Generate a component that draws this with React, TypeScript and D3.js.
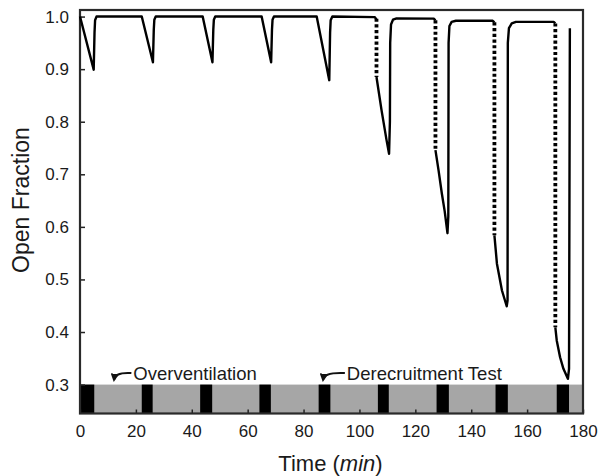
import { useEffect, useRef } from "react";
import * as d3 from "d3";

// open fraction trace, broken where the dotted drops are
const SOLID_SEGMENTS: [number, number][][] = [
  [
    [0, 1.0], [4.9, 0.899], [5.2, 0.97], [5.4, 0.993], [5.9, 1.0],
    [22.1, 1.0], [26.1, 0.913], [26.4, 0.975], [26.6, 0.994], [27.1, 1.0],
    [43.9, 1.0], [47.4, 0.913], [47.7, 0.975], [47.9, 0.994], [48.4, 1.0],
    [65.0, 1.0], [68.4, 0.913], [68.7, 0.975], [68.9, 0.994], [69.4, 1.0],
    [84.7, 1.0], [89.2, 0.879], [89.5, 0.97], [89.7, 0.993], [90.3, 1.0],
    [105.5, 0.999], [106.1, 0.994],
  ],
  [
    [106.1, 0.885], [107.9, 0.822], [109.7, 0.765], [110.6, 0.739], [110.9, 0.8],
    [111.0, 0.95], [111.3, 0.985], [112.0, 0.994], [113.3, 0.9966], [126.6, 0.996], [127.2, 0.993],
  ],
  [
    [127.2, 0.746], [128.3, 0.708], [129.5, 0.663], [130.5, 0.63], [131.5, 0.588], [131.8, 0.62],
    [131.9, 0.95], [132.2, 0.982], [133.0, 0.99], [134.5, 0.992], [147.7, 0.992], [148.3, 0.989],
  ],
  [
    [148.3, 0.584], [149.2, 0.53], [151.0, 0.479], [152.7, 0.449], [153.0, 0.46],
    [153.1, 0.95], [153.5, 0.978], [154.5, 0.987], [156.0, 0.99], [169.5, 0.99], [170.1, 0.987],
  ],
  [
    [170.1, 0.409], [170.6, 0.384], [171.8, 0.352], [173.0, 0.33], [174.6, 0.311], [175.0, 0.33], [175.3, 0.978],
  ],
];

// derecruitment drops (t, from, to)
const DOTTED_DROPS = [
  { t: 106.1, top: 0.996, bottom: 0.885 },
  { t: 127.2, top: 0.993, bottom: 0.746 },
  { t: 148.3, top: 0.989, bottom: 0.584 },
  { t: 170.1, top: 0.987, bottom: 0.409 },
];

// black blocks in the ventilation strip (start, end in min)
const VENT_BARS: [number, number][] = [
  [0, 5.1], [22.1, 26.0], [43.0, 47.3], [64.2, 68.3], [85.4, 89.6],
  [106.6, 110.5], [127.6, 132.0], [148.7, 153.1], [170.6, 175.0],
];

const X_TICKS = [0, 20, 40, 60, 80, 100, 120, 140, 160, 180];
const Y_TICKS = [0.3, 0.4, 0.5, 0.6, 0.7, 0.8, 0.9, 1.0];

const ANNOTATIONS = [
  { label: "Overventilation", tipT: 12.2, textT: 19.1 },
  { label: "Derecruitment Test", tipT: 87.0, textT: 95.5 },
];

const FONT = "'Liberation Sans', Arial, Helvetica, sans-serif";

export default function App() {
  const ref = useRef<HTMLDivElement>(null);

  useEffect(() => {
    if (!ref.current) return;
    const width = 599;
    const height = 476;
    const margin = { top: 10, right: 16, bottom: 62.5, left: 80 };
    const innerWidth = width - margin.left - margin.right;
    const innerHeight = height - margin.top - margin.bottom;

    const svg = d3
      .select(ref.current)
      .html("")
      .append("svg")
      .attr("width", width)
      .attr("height", height)
      .style("position", "absolute")
      .style("left", "0px")
      .style("top", "0px")
      .style("font-family", FONT);

    svg
      .append("defs")
      .append("marker")
      .attr("id", "arrowhead")
      .attr("viewBox", "0 0 10 10")
      .attr("refX", 7)
      .attr("refY", 5)
      .attr("markerWidth", 4.2)
      .attr("markerHeight", 4.2)
      .attr("markerUnits", "strokeWidth")
      .attr("orient", "auto")
      .append("path")
      .attr("d", "M0,0 L10,5 L0,10 Z")
      .attr("fill", "#111");

    const g = svg.append("g").attr("transform", `translate(${margin.left},${margin.top})`);

    const x = d3.scaleLinear().domain([0, 180]).range([0, innerWidth]);
    const y = d3.scaleLinear().domain([0.245, 1.0125]).range([innerHeight, 0]);

    // ventilation strip
    g.append("rect")
      .attr("x", 0)
      .attr("y", y(0.3))
      .attr("width", innerWidth)
      .attr("height", innerHeight - y(0.3))
      .attr("fill", "#a6a6a6");

    g.selectAll("rect.vent")
      .data(VENT_BARS)
      .join("rect")
      .attr("class", "vent")
      .attr("x", (d) => x(d[0]))
      .attr("y", y(0.3))
      .attr("width", (d) => x(d[1]) - x(d[0]))
      .attr("height", innerHeight - y(0.3))
      .attr("fill", "#000");

    // axes
    const yAxis = g
      .append("g")
      .call(d3.axisLeft(y).tickValues(Y_TICKS).tickSize(-5).tickPadding(11).tickFormat(d3.format(".1f")));
    const xAxis = g
      .append("g")
      .attr("transform", `translate(0,${innerHeight})`)
      .call(d3.axisBottom(x).tickValues(X_TICKS).tickSize(-4).tickPadding(11.4).tickFormat(d3.format("d")));

    [yAxis, xAxis].forEach((axis) => {
      axis.select(".domain").remove();
      axis.selectAll("line").attr("stroke", "#222").attr("stroke-width", 1.5);
      axis.selectAll("text").attr("font-size", 17).attr("font-family", FONT).attr("fill", "#1a1a1a");
    });

    // frame
    g.append("rect")
      .attr("x", 0)
      .attr("y", 0)
      .attr("width", innerWidth)
      .attr("height", innerHeight)
      .attr("fill", "none")
      .attr("stroke", "#2a2a2a")
      .attr("stroke-width", 2.2);

    // trace
    const line = d3
      .line<[number, number]>()
      .x((d) => x(d[0]))
      .y((d) => y(d[1]));

    g.selectAll("path.trace")
      .data(SOLID_SEGMENTS)
      .join("path")
      .attr("class", "trace")
      .attr("fill", "none")
      .attr("stroke", "#000")
      .attr("stroke-width", 2.4)
      .attr("stroke-linejoin", "round")
      .attr("d", (d) => line(d));

    g.selectAll("line.drop")
      .data(DOTTED_DROPS)
      .join("line")
      .attr("class", "drop")
      .attr("x1", (d) => x(d.t))
      .attr("x2", (d) => x(d.t))
      .attr("y1", (d) => y(d.top))
      .attr("y2", (d) => y(d.bottom))
      .attr("stroke", "#000")
      .attr("stroke-width", 3.8)
      .attr("stroke-dasharray", "3.2 2.5");

    // annotations
    ANNOTATIONS.forEach((a) => {
      const tipX = x(a.tipT);
      const tipY = y(0.3) - 1;
      const startX = x(a.textT) - 2;
      const startY = y(0.3) - 11.5;
      g.append("path")
        .attr("d", `M${startX},${startY} Q${tipX + 1},${startY - 1} ${tipX},${tipY - 4}`)
        .attr("fill", "none")
        .attr("stroke", "#111")
        .attr("stroke-width", 2)
        .attr("marker-end", "url(#arrowhead)");
      g.append("text")
        .attr("x", x(a.textT))
        .attr("y", y(0.3) - 4.5)
        .attr("font-size", 18.5)
        .attr("fill", "#1a1a1a")
        .text(a.label);
    });

    // titles
    svg
      .append("text")
      .attr("transform", `translate(29,200) rotate(-90)`)
      .attr("text-anchor", "middle")
      .attr("font-size", 23)
      .attr("fill", "#1a1a1a")
      .text("Open Fraction");

    const xTitle = svg
      .append("text")
      .attr("x", margin.left + innerWidth / 2 - 1)
      .attr("y", 471)
      .attr("text-anchor", "middle")
      .attr("font-size", 22)
      .attr("fill", "#1a1a1a");
    xTitle.append("tspan").text("Time (");
    xTitle.append("tspan").attr("font-style", "italic").text("min");
    xTitle.append("tspan").text(")");
  }, []);

  return <div ref={ref} />;
}
